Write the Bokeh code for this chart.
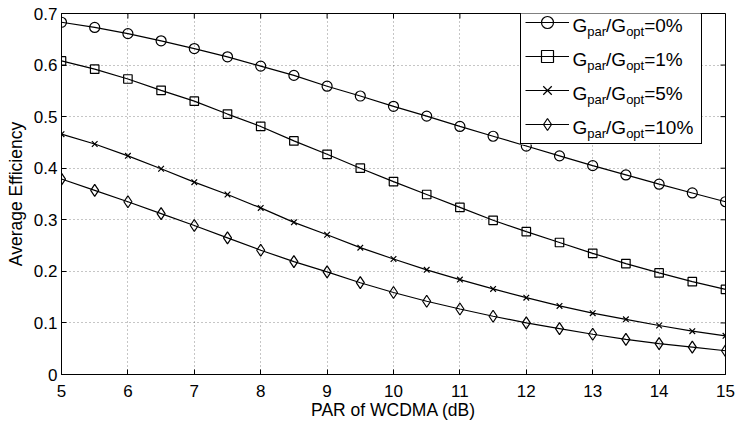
from bokeh.plotting import figure
from bokeh.models import Range1d, FixedTicker, Legend, LegendItem, Label, BoxAnnotation
from bokeh.embed import file_html
from bokeh.resources import INLINE

# ---------------- data ----------------
par_db = [5.0, 5.5, 6.0, 6.5, 7.0, 7.5, 8.0, 8.5, 9.0, 9.5, 10.0,
          10.5, 11.0, 11.5, 12.0, 12.5, 13.0, 13.5, 14.0, 14.5, 15.0]
eff_0 = [0.683, 0.673, 0.661, 0.647, 0.632, 0.616, 0.598, 0.580, 0.559, 0.540, 0.520,
         0.501, 0.481, 0.462, 0.443, 0.424, 0.405, 0.387, 0.369, 0.352, 0.335]
eff_1 = [0.608, 0.592, 0.573, 0.551, 0.530, 0.505, 0.481, 0.453, 0.427, 0.400, 0.374,
         0.349, 0.324, 0.299, 0.277, 0.256, 0.235, 0.215, 0.197, 0.180, 0.165]
eff_5 = [0.466, 0.447, 0.424, 0.399, 0.373, 0.349, 0.323, 0.295, 0.271, 0.246, 0.224,
         0.203, 0.184, 0.166, 0.149, 0.133, 0.119, 0.107, 0.095, 0.084, 0.075]
eff_10 = [0.379, 0.357, 0.335, 0.312, 0.289, 0.265, 0.241, 0.219, 0.199, 0.178, 0.159,
          0.142, 0.127, 0.113, 0.100, 0.089, 0.078, 0.068, 0.060, 0.053, 0.046]
ratio_labels = ["0%", "1%", "5%", "10%"]
x_ticks = [5, 6, 7, 8, 9, 10, 11, 12, 13, 14, 15]
x_tick_labels = ["5", "6", "7", "8", "9", "10", "11", "12", "13", "14", "15"]
y_ticks = [0, 0.1, 0.2, 0.3, 0.4, 0.5, 0.6, 0.7]
y_tick_labels = ["0", "0.1", "0.2", "0.3", "0.4", "0.5", "0.6", "0.7"]
x_title = "PAR of WCDMA (dB)"
y_title = "Average Efficiency"

# ---------------- layout / style ----------------
FONT = "Liberation Sans"
W, H = 735, 423
B_LEFT, B_RIGHT, B_TOP, B_BOTTOM = 61, 10, 13, 49
FRAME_W = W - B_LEFT - B_RIGHT
FRAME_H = H - B_TOP - B_BOTTOM
X0, X1 = x_ticks[0], x_ticks[-1]
Y0, Y1 = y_ticks[0], y_ticks[-1]
markers = ["circle", "square", "x", "diamond"]
marker_sizes = [10, 8.5, 8, 12]
TICK = 5

p = figure(width=W, height=H, x_range=Range1d(X0, X1), y_range=Range1d(Y0, Y1),
           output_backend="svg", toolbar_location=None,
           min_border_left=B_LEFT, min_border_right=B_RIGHT,
           min_border_top=B_TOP, min_border_bottom=B_BOTTOM,
           background_fill_color="white", border_fill_color="white")
p.outline_line_color = "black"
p.outline_line_width = 1

p.xaxis.ticker = FixedTicker(ticks=x_ticks)
p.yaxis.ticker = FixedTicker(ticks=y_ticks)
p.xaxis.major_label_overrides = {t: s for t, s in zip(x_ticks, x_tick_labels)}
p.yaxis.major_label_overrides = {t: s for t, s in zip(y_ticks, y_tick_labels)}
p.xaxis.axis_label = x_title
p.yaxis.axis_label = y_title
for ax in p.axis:
    ax.axis_line_color = "black"
    ax.major_tick_line_color = "black"
    ax.major_tick_in = TICK
    ax.major_tick_out = 0
    ax.minor_tick_line_color = None
    ax.major_label_text_font = FONT
    ax.major_label_text_font_size = "17px"
    ax.major_label_text_color = "black"
    ax.axis_label_text_font = FONT
    ax.axis_label_text_font_size = "17.5px"
    ax.axis_label_text_font_style = "normal"
    ax.axis_label_text_color = "black"
p.xaxis.major_label_standoff = 10
p.xaxis.axis_label_standoff = 0
p.yaxis.major_label_standoff = 4
p.yaxis.axis_label_standoff = 5

p.xgrid.ticker = FixedTicker(ticks=x_ticks)
p.ygrid.ticker = FixedTicker(ticks=y_ticks)
for g in (p.xgrid, p.ygrid):
    g.grid_line_color = "black"
    g.grid_line_alpha = 0.45
    g.grid_line_dash = "1 3"
    g.grid_line_width = 1

# box ticks on the top and right edges (MATLAB style), from the tick lists
dy = TICK * (Y1 - Y0) / FRAME_H
dx = TICK * (X1 - X0) / FRAME_W
p.segment(x0=x_ticks, y0=[Y1] * len(x_ticks), x1=x_ticks, y1=[Y1 - dy] * len(x_ticks),
          line_color="black", line_width=1)
p.segment(x0=[X1] * len(y_ticks), y0=y_ticks, x1=[X1 - dx] * len(y_ticks), y1=y_ticks,
          line_color="black", line_width=1)

items = []
for vals, mk, ms in zip([eff_0, eff_1, eff_5, eff_10], markers, marker_sizes):
    lr = p.line(par_db, vals, line_color="black", line_width=1.2)
    sr = p.scatter(par_db, vals, marker=mk, size=ms, line_color="black",
                   line_width=1.2, fill_color=None)
    items.append(LegendItem(label=" ", renderers=[lr, sr]))

# legend: white fill box, transparent Legend (with border) for glyph samples, Labels for text
PAD, SPACING, ITEM_H, GLYPH_W, STANDOFF, LABEL_W = 4, 4, 30, 44, 4, 124
LEG_LEFT = 459                  # px right of frame left
LEG_TOP = FRAME_H + 9           # px above frame bottom (9 px above frame top)
leg_w = 2 * PAD + GLYPH_W + STANDOFF + LABEL_W
leg_h = 2 * PAD + 4 * ITEM_H + 3 * SPACING

box = BoxAnnotation(left=LEG_LEFT, right=LEG_LEFT + leg_w, top=LEG_TOP, bottom=LEG_TOP - leg_h,
                    left_units="screen", right_units="screen", top_units="screen",
                    bottom_units="screen", fill_color="white", fill_alpha=1.0,
                    line_color=None)
p.add_layout(box)

legend = Legend(items=items, location=(LEG_LEFT, LEG_TOP - leg_h),
                padding=PAD, spacing=SPACING, glyph_width=GLYPH_W, glyph_height=ITEM_H,
                label_height=ITEM_H, label_width=LABEL_W, label_standoff=STANDOFF,
                label_text_font_size="10px", margin=0,
                border_line_color="black", border_line_width=1, border_line_alpha=1.0,
                background_fill_alpha=0.0)
p.add_layout(legend, "center")

ADV = {"G": 0.778, "p": 0.556, "a": 0.556, "r": 0.333, "o": 0.556, "t": 0.278,
       "/": 0.278, "=": 0.584, "%": 0.889}
def tw(s, size):
    return sum(ADV.get(c, 0.556) for c in s) * size

BIG, SMALL = 19, 13
text_x0 = LEG_LEFT + PAD + GLYPH_W + STANDOFF
for i, lab in enumerate(ratio_labels):
    yc = LEG_TOP - PAD - ITEM_H / 2 - i * (ITEM_H + SPACING)
    parts = [("G", BIG, 2), ("par", SMALL, 8), ("/G", BIG, 2), ("opt", SMALL, 8), ("=" + lab, BIG, 2)]
    x = text_x0
    for s, size, off in parts:
        p.add_layout(Label(x=x, y=yc - off, x_units="screen", y_units="screen", text=s,
                           text_font=FONT, text_font_size=f"{size}px", text_color="black",
                           text_align="left", text_baseline="alphabetic", level="overlay"))
        x += tw(s, size)

open("out.html", "w").write(file_html(p, INLINE))
